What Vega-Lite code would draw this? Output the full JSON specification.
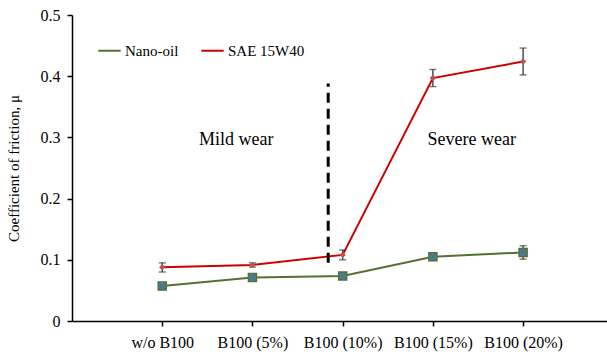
{
  "$schema": "https://vega.github.io/schema/vega-lite/v6.json",
  "width": 535,
  "height": 306,
  "autosize": {"type": "none"},
  "padding": {"left": 72, "top": 15, "right": 0, "bottom": 33},
  "background": "white",
  "config": {
    "font": "Liberation Serif",
    "view": {"stroke": null}
  },
  "datasets": {
    "series": [
      {"i": 1, "cat": "w/o B100", "oil": "Nano-oil", "mu": 0.057, "lo": 0.054, "hi": 0.060},
      {"i": 2, "cat": "B100 (5%)", "oil": "Nano-oil", "mu": 0.071, "lo": 0.068, "hi": 0.074},
      {"i": 3, "cat": "B100 (10%)", "oil": "Nano-oil", "mu": 0.0735, "lo": 0.071, "hi": 0.076},
      {"i": 4, "cat": "B100 (15%)", "oil": "Nano-oil", "mu": 0.105, "lo": 0.101, "hi": 0.109},
      {"i": 5, "cat": "B100 (20%)", "oil": "Nano-oil", "mu": 0.112, "lo": 0.101, "hi": 0.123},
      {"i": 1, "cat": "w/o B100", "oil": "SAE 15W40", "mu": 0.088, "lo": 0.080, "hi": 0.095},
      {"i": 2, "cat": "B100 (5%)", "oil": "SAE 15W40", "mu": 0.0915, "lo": 0.088, "hi": 0.095},
      {"i": 3, "cat": "B100 (10%)", "oil": "SAE 15W40", "mu": 0.108, "lo": 0.100, "hi": 0.116},
      {"i": 4, "cat": "B100 (15%)", "oil": "SAE 15W40", "mu": 0.397, "lo": 0.383, "hi": 0.411},
      {"i": 5, "cat": "B100 (20%)", "oil": "SAE 15W40", "mu": 0.424, "lo": 0.402, "hi": 0.446}
    ],
    "notes": [
      {"i": 1.82, "mu": 0.296, "label": "Mild wear"},
      {"i": 4.43, "mu": 0.296, "label": "Severe wear"}
    ],
    "divider": [{"i": 2.84, "lo": 0.095, "hi": 0.388}]
  },
  "layer": [
    {
      "data": {"name": "series"},
      "mark": {"type": "line", "strokeWidth": 2},
      "encoding": {
        "x": {"field": "i", "type": "quantitative", "scale": {"domain": [0, 5.93], "nice": false, "zero": false},
          "axis": {"values": [1, 2, 3, 4, 5], "title": null, "grid": false, "labelPadding": 8,
            "domainColor": "black", "tickColor": "black", "labelColor": "black", "labelFont": "Liberation Serif", "labelFontSize": 16, "tickSize": 5, "domainWidth": 1.5, "tickWidth": 1.5,
            "labelExpr": "['w/o B100','B100 (5%)','B100 (10%)','B100 (15%)','B100 (20%)'][datum.value - 1]"}},
        "y": {"field": "mu", "type": "quantitative", "scale": {"domain": [0, 0.5], "nice": false},
          "axis": {"values": [0, 0.1, 0.2, 0.3, 0.4, 0.5], "title": "Coefficient  of  friction,  μ", "grid": false,
            "domainColor": "black", "tickColor": "black", "labelColor": "black", "titleColor": "black", "labelFont": "Liberation Serif", "titleFont": "Liberation Serif", "labelFontSize": 16, "tickSize": 5, "domainWidth": 1.5, "tickWidth": 1.5,
            "titleFontSize": 15, "titleFontWeight": "normal", "titlePadding": 19, "labelPadding": 7,
            "labelExpr": "datum.value == 0 ? '0' : format(datum.value, '.1f')"}},
        "color": {"field": "oil", "type": "nominal",
          "scale": {"domain": ["Nano-oil", "SAE 15W40"], "range": ["#55702f", "#cc0000"]},
          "legend": {"title": null, "orient": "none", "legendX": 25, "legendY": 23, "direction": "horizontal",
            "symbolType": "stroke", "symbolSize": 500, "symbolStrokeWidth": 2, "labelFontSize": 15, "labelFont": "Liberation Serif", "labelColor": "black", "columnPadding": 18, "labelOffset": 3}}
      }
    },
    {
      "data": {"name": "divider"},
      "mark": {"type": "rule", "color": "black", "strokeWidth": 3, "strokeDash": [10, 6]},
      "encoding": {
        "x": {"field": "i", "type": "quantitative"},
        "y": {"field": "lo", "type": "quantitative"},
        "y2": {"field": "hi"}
      }
    },
    {
      "data": {"name": "series"},
      "mark": {"type": "rule", "color": "#333333", "strokeWidth": 1.3},
      "encoding": {
        "x": {"field": "i", "type": "quantitative"},
        "y": {"field": "lo", "type": "quantitative"},
        "y2": {"field": "hi"}
      }
    },
    {
      "data": {"name": "series"},
      "mark": {"type": "point", "shape": "M-1,0L1,0", "size": 49, "color": "#333333", "strokeWidth": 1.3, "filled": false},
      "encoding": {
        "x": {"field": "i", "type": "quantitative"},
        "y": {"field": "lo", "type": "quantitative"}
      }
    },
    {
      "data": {"name": "series"},
      "mark": {"type": "point", "shape": "M-1,0L1,0", "size": 49, "color": "#333333", "strokeWidth": 1.3, "filled": false},
      "encoding": {
        "x": {"field": "i", "type": "quantitative"},
        "y": {"field": "hi", "type": "quantitative"}
      }
    },
    {
      "data": {"name": "series"},
      "transform": [{"filter": "datum.oil == 'Nano-oil'"}],
      "mark": {"type": "point", "shape": "square", "size": 64, "filled": true, "fill": "#4a7ebb", "stroke": "#55702f", "strokeWidth": 1.5, "opacity": 1},
      "encoding": {
        "x": {"field": "i", "type": "quantitative"},
        "y": {"field": "mu", "type": "quantitative"}
      }
    },
    {
      "data": {"name": "series"},
      "transform": [{"filter": "datum.oil == 'Nano-oil'"}],
      "mark": {"type": "point", "shape": "M-1,-1L1,1M1,-1L-1,1", "size": 36, "filled": false, "color": "#55702f", "strokeWidth": 1, "opacity": 1},
      "encoding": {
        "x": {"field": "i", "type": "quantitative"},
        "y": {"field": "mu", "type": "quantitative"}
      }
    },
    {
      "data": {"name": "series"},
      "transform": [{"filter": "datum.oil == 'SAE 15W40'"}],
      "mark": {"type": "point", "shape": "diamond", "size": 40, "filled": true, "color": "#c0504d", "opacity": 1},
      "encoding": {
        "x": {"field": "i", "type": "quantitative"},
        "y": {"field": "mu", "type": "quantitative"}
      }
    },
    {
      "data": {"name": "notes"},
      "mark": {"type": "text", "font": "Liberation Serif", "fontSize": 18, "color": "black"},
      "encoding": {
        "x": {"field": "i", "type": "quantitative"},
        "y": {"field": "mu", "type": "quantitative"},
        "text": {"field": "label"}
      }
    }
  ]
}
